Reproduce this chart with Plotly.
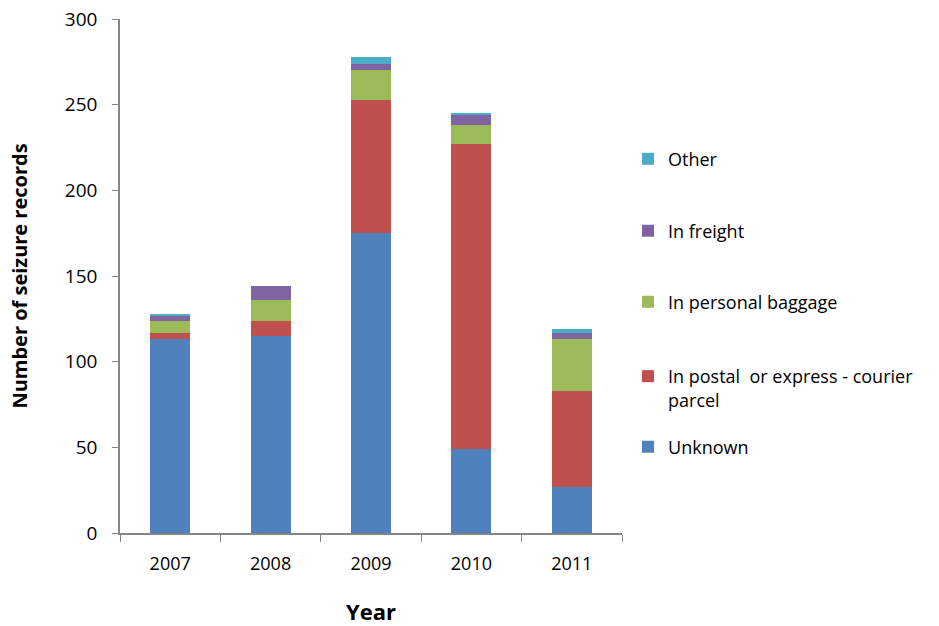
import plotly.graph_objects as go

years = ["2007", "2008", "2009", "2010", "2011"]
unknown = [113, 115, 175, 49, 27]
postal = [4, 9, 78, 178, 56]
baggage = [7, 12, 17, 11, 30]
freight = [3, 8, 4, 6, 4]
other = [1, 0, 4, 1, 2]

series = [
    ("Unknown", unknown, "#4F81BD", "legend5", 0.1673),
    ("In postal  or express - courier<br>parcel", postal, "#C0504D", "legend4", 0.2821),
    ("In personal baggage", baggage, "#9BBB59", "legend3", 0.4494),
    ("In freight", freight, "#8064A2", "legend2", 0.5875),
    ("Other", other, "#4BACC6", "legend", 0.7276),
]

FONT = "'Open Sans', sans-serif"
fig = go.Figure()
layout_legends = {}
for name, vals, color, leg, ypos in series:
    fig.add_trace(go.Bar(x=years, y=vals, name=name, marker=dict(color=color, line=dict(width=0)),
                         legend=leg))
    layout_legends[leg] = dict(x=1.012, xanchor="left", y=ypos, yanchor="middle",
                               font=dict(family=FONT, size=18, color="#000"),
                               bgcolor="rgba(0,0,0,0)", valign="top", itemclick=False,
                               itemwidth=30)

fig.update_layout(
    barmode="stack",
    bargap=0.6,
    width=939, height=626,
    margin=dict(l=120, r=317, t=19, b=93, autoexpand=False),
    plot_bgcolor="white", paper_bgcolor="white",
    font=dict(family=FONT, size=18, color="#000"),
    showlegend=True,
    **layout_legends,
)
fig.update_xaxes(
    automargin=False,
    showline=True, linecolor="#868686", linewidth=1.5,
    ticks="outside", tickson="boundaries", ticklen=7, tickcolor="#868686",
    tickfont=dict(family=FONT, size=18), ticklabelstandoff=14,
    title=dict(text="<b>Year</b>", font=dict(family=FONT, size=22), standoff=30),
)
fig.update_yaxes(
    automargin=False,
    range=[0, 300], tickvals=[0, 50, 100, 150, 200, 250, 300],
    showline=True, linecolor="#868686", linewidth=1.5,
    ticks="outside", ticklen=6, tickcolor="#868686", showgrid=False, zeroline=False,
    tickfont=dict(family=FONT, size=19), ticklabelstandoff=11, ticklabeloverflow="allow",
    title=dict(text="<b>Number of seizure records</b>", font=dict(family=FONT, size=20), standoff=32),
)

fig.write_html("out.html", config={"displayModeBar": False},
               post_script="document.body.style.margin='0px';")
